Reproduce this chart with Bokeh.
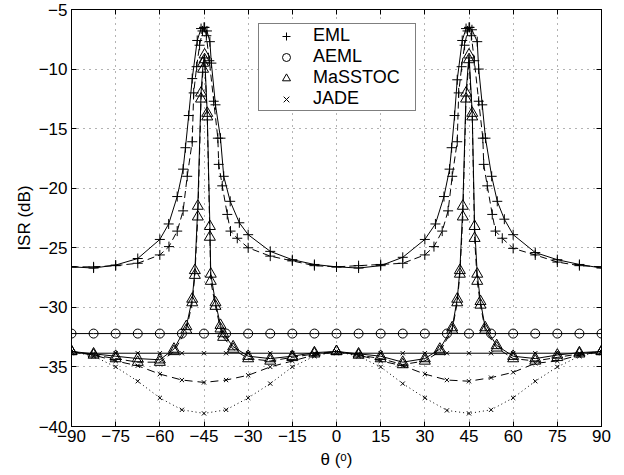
from bokeh.plotting import figure
from bokeh.models import Range1d, FixedTicker, LinearAxis, Legend, LegendItem
from bokeh.embed import file_html
from bokeh.resources import INLINE

# ---------------- data ----------------
x_ticks = [-90, -75, -60, -45, -30, -15, 0, 15, 30, 45, 60, 75, 90]
x_tick_labels = ["\u221290", "\u221275", "\u221260", "\u221245", "\u221230", "\u221215",
                 "0", "15", "30", "45", "60", "75", "90"]
y_ticks = [-40, -35, -30, -25, -20, -15, -10, -5]
y_tick_labels = ["\u221240", "\u221235", "\u221230", "\u221225", "\u221220", "\u221215",
                 "\u221210", "\u22125"]

theta_grid = [-90, -82.5, -75, -67.5, -60, -52.5, -45, -37.5, -30, -22.5, -15, -7.5, 0,
              7.5, 15, 22.5, 30, 37.5, 45, 52.5, 60, 67.5, 75, 82.5, 90]

aeml_isr = [-32.2, -32.2, -32.2, -32.2, -32.2, -32.2, -32.2, -32.2, -32.2, -32.2, -32.2, -32.2,
            -32.2, -32.2, -32.2, -32.2, -32.2, -32.2, -32.2, -32.2, -32.2, -32.2, -32.2, -32.2, -32.2]

jade_solid_isr = [-33.85, -33.85, -33.85, -33.85, -33.85, -33.85, -33.85, -33.85, -33.85, -33.85,
                  -33.85, -33.85, -33.85, -33.85, -33.85, -33.85, -33.85, -33.85, -33.85, -33.85,
                  -33.85, -33.85, -33.85, -33.85, -33.85]
jade_dashed_isr = [-33.7, -34.0, -34.5, -34.9, -35.6, -36.1, -36.3, -36.1, -35.7, -35.0, -34.5, -34.0,
                   -33.7, -34.0, -34.5, -34.9, -35.6, -36.1, -36.2, -35.9, -35.45, -34.7, -34.5, -34.0, -33.7]
jade_dotted_isr = [-33.7, -34.1, -35.0, -36.2, -37.6, -38.6, -38.9, -38.6, -37.6, -36.4, -35.0, -34.1,
                   -33.7, -34.1, -35.0, -36.4, -37.6, -38.65, -38.9, -38.6, -37.6, -36.2, -35.0, -34.1, -33.7]

masstoc_theta = [-90, -82.5, -75, -67.5, -60, -55.2, -51, -49, -48.1, -47.1, -46, -45.3, -44.8, -43.9,
                 -43, -42.7, -41.1, -39.4, -38.5, -35.1, -30, -22.5, -15, -7.5, 0, 7.5, 15, 22.5, 30,
                 35.1, 39.3, 41, 41.9, 42.9, 44, 45, 46.1, 46.9, 47.8, 48.9, 50.5, 54.4, 60, 67.5, 75,
                 82.5, 90]
masstoc_solid_isr = [-33.7, -33.9, -34.1, -34.3, -34.4, -33.5, -31.6, -29.3, -26.9, -21.5, -12.0, -9.5,
                     -8.8, -13.7, -23.2, -27.2, -29.6, -31.5, -32.2, -33.3, -34.1, -34.3, -34.1, -33.8,
                     -33.7, -33.9, -34.1, -34.6, -34.3, -33.5, -31.7, -29.3, -26.9, -21.5, -12.0, -8.8,
                     -13.7, -23.2, -27.2, -29.5, -31.7, -33.2, -34.1, -34.3, -34.0, -33.8, -33.7]
masstoc_dashed_isr = [-33.7, -34.0, -34.3, -34.6, -34.6, -33.7, -31.9, -29.6, -27.3, -22.4, -12.5, -10.0,
                      -9.2, -14.0, -24.1, -27.8, -29.9, -31.8, -32.5, -33.5, -34.3, -34.5, -34.2, -33.9,
                      -33.7, -34.0, -34.3, -34.8, -34.5, -33.7, -31.9, -29.6, -27.2, -22.4, -12.5, -9.2,
                      -14.0, -24.2, -27.8, -29.8, -31.9, -33.4, -34.3, -34.5, -34.2, -33.9, -33.7]

eml_solid_theta = [-90, -82.5, -75, -67.5, -60, -57, -54.1, -52.1, -51.3, -50.2, -49, -47.3, -46, -45,
                   -44, -43, -42.5, -41.1, -39.4, -38.3, -36.1, -33, -30, -22.5, -15, -7.5, 0,
                   7.5, 15, 22.5, 30, 33.6, 36.5, 38.4, 39.1, 40.1, 41, 42.7, 44, 45, 46, 47.8, 48.3,
                   49.5, 50.6, 52.7, 54.6, 57, 60, 67.5, 75, 82.5, 90]
eml_solid_isr = [-26.6, -26.7, -26.45, -25.9, -24.3, -23.0, -20.7, -18.4, -16.6, -13.9, -10.8, -7.6, -6.6,
                 -6.5, -6.8, -7.7, -9.5, -13.0, -15.8, -19.0, -21.1, -22.9, -23.9, -25.3, -26.0, -26.4,
                 -26.6, -26.7, -26.5, -25.8, -24.3, -23.0, -20.7, -18.4, -16.6, -13.9, -10.9, -7.6,
                 -6.6, -6.5, -6.7, -7.7, -10.0, -13.0, -15.8, -19.0, -21.1, -22.6, -23.9, -25.4,
                 -26.0, -26.4, -26.7]

eml_dashed_theta = [-90, -82.5, -75, -67.5, -60, -56.9, -54.1, -52.1, -50.7, -49.0, -48.5, -47.5, -46.5,
                    -45.5, -44.8, -44.2, -43.2, -41.7, -40.3, -40.0, -38.8, -37.1, -36.0, -33.7, -30,
                    -22.5, -15, -7.5, 0, 7.5, 15, 22.5, 30, 33.1, 35.9, 37.9, 39.3, 41.0, 41.5, 42.5,
                    43.5, 44.5, 45.2, 45.8, 46.8, 48.3, 49.7, 50.0, 51.2, 52.9, 54.0, 56.3, 60, 67.5,
                    75, 82.5, 90]
eml_dashed_isr = [-26.6, -26.6, -26.5, -26.3, -25.6, -24.9, -23.6, -21.9, -19.0, -16.1, -12.0, -9.8, -8.0,
                  -6.8, -6.5, -7.2, -9.3, -12.7, -15.8, -18.0, -19.8, -22.2, -23.6, -24.2, -25.0,
                  -25.7, -26.1, -26.5, -26.6, -26.5, -26.4, -26.3, -25.6, -24.9, -23.6, -21.9, -19.0,
                  -16.1, -12.0, -9.8, -8.0, -6.8, -6.5, -7.2, -9.3, -12.7, -15.8, -18.0, -19.8,
                  -22.2, -23.6, -24.2, -25.05, -25.6, -26.2, -26.5, -26.6]

legend_labels = ["EML", "AEML", "MaSSTOC", "JADE"]
x_label = "\u03b8 (\u1d52)"
y_label = "ISR (dB)"

# ---------------- figure ----------------
FONT = "Liberation Sans"
p = figure(width=614, height=474, output_backend="svg", toolbar_location=None,
           x_range=Range1d(-90, 90), y_range=Range1d(-40, -5),
           min_border_left=71, min_border_right=13, min_border_top=9, min_border_bottom=48)
p.background_fill_color = "white"
p.border_fill_color = "white"
p.outline_line_color = "black"
p.outline_line_width = 1

def style_axis(ax, labels=True):
    ax.axis_line_color = "black"
    ax.major_tick_line_color = "black"
    ax.major_tick_in = 5
    ax.major_tick_out = 0
    ax.minor_tick_in = 0
    ax.minor_tick_out = 0
    ax.minor_tick_line_color = None
    ax.major_label_text_font = FONT
    if labels:
        ax.major_label_text_font_size = "17px"
        ax.major_label_text_color = "black"
        ax.axis_label_text_font = FONT
        ax.axis_label_text_font_size = "17px"
        ax.axis_label_text_font_style = "normal"
        ax.axis_label_text_color = "black"
    else:
        ax.major_label_text_font_size = "1px"
        ax.major_label_text_color = None
        ax.major_label_standoff = 0

p.xaxis.ticker = FixedTicker(ticks=x_ticks)
p.xaxis.major_label_overrides = {t: s for t, s in zip(x_ticks, x_tick_labels)}
p.yaxis.ticker = FixedTicker(ticks=y_ticks)
p.yaxis.major_label_overrides = {t: s for t, s in zip(y_ticks, y_tick_labels)}
style_axis(p.xaxis[0])
style_axis(p.yaxis[0])
p.xaxis.major_label_standoff = 3
p.yaxis.major_label_standoff = 4
p.yaxis.axis_label = y_label
p.yaxis.axis_label_standoff = 2
p.xaxis.axis_label = x_label
p.xaxis.axis_label_standoff = 5

top_ax = LinearAxis(ticker=FixedTicker(ticks=x_ticks))
style_axis(top_ax, labels=False)
p.add_layout(top_ax, "above")
right_ax = LinearAxis(ticker=FixedTicker(ticks=y_ticks))
style_axis(right_ax, labels=False)
p.add_layout(right_ax, "right")

for g in (p.xgrid[0], p.ygrid[0]):
    g.grid_line_color = "black"
    g.grid_line_alpha = 0.6
    g.grid_line_dash = "1 5"
    g.grid_line_width = 1
p.xgrid.ticker = FixedTicker(ticks=x_ticks)
p.ygrid.ticker = FixedTicker(ticks=y_ticks)

LW = 1
# lines
p.line(eml_solid_theta, eml_solid_isr, line_color="black", line_width=LW)
p.line(eml_dashed_theta, eml_dashed_isr, line_color="black", line_width=LW, line_dash="7 4")
p.line(theta_grid, aeml_isr, line_color="black", line_width=LW)
p.line(masstoc_theta, masstoc_solid_isr, line_color="black", line_width=LW)
p.line(masstoc_theta, masstoc_dashed_isr, line_color="black", line_width=LW, line_dash="7 4")
p.line(theta_grid, jade_solid_isr, line_color="black", line_width=LW)
p.line(theta_grid, jade_dashed_isr, line_color="black", line_width=LW, line_dash="8 5")
p.line(theta_grid, jade_dotted_isr, line_color="black", line_width=LW, line_dash="1 3")

# markers
r_eml = p.scatter(eml_solid_theta, eml_solid_isr, marker="cross", size=10,
                  line_color="black", fill_color=None, line_width=1)
p.scatter(eml_dashed_theta, eml_dashed_isr, marker="cross", size=10,
          line_color="black", fill_color=None, line_width=1)
r_aeml = p.scatter(theta_grid, aeml_isr, marker="circle", size=9,
                   line_color="black", fill_color=None, line_width=1)
r_mas = p.scatter(masstoc_theta, masstoc_solid_isr, marker="triangle", size=11,
                  line_color="black", fill_color=None, line_width=1)
p.scatter(masstoc_theta, masstoc_dashed_isr, marker="triangle", size=11,
          line_color="black", fill_color=None, line_width=1)
r_jade = p.scatter(theta_grid, jade_solid_isr, marker="x", size=6,
                   line_color="black", fill_color=None, line_width=1)
p.scatter(theta_grid, jade_dashed_isr, marker="x", size=6,
          line_color="black", fill_color=None, line_width=1)
p.scatter(theta_grid, jade_dotted_isr, marker="x", size=6,
          line_color="black", fill_color=None, line_width=1)

legend = Legend(items=[LegendItem(label=legend_labels[0], renderers=[r_eml]),
                       LegendItem(label=legend_labels[1], renderers=[r_aeml]),
                       LegendItem(label=legend_labels[2], renderers=[r_mas]),
                       LegendItem(label=legend_labels[3], renderers=[r_jade])],
                location=(187, 315))
legend.border_line_color = "black"
legend.border_line_width = 1
legend.background_fill_color = "white"
legend.background_fill_alpha = 1
legend.padding = 1
legend.spacing = -2
legend.margin = 0
legend.glyph_width = 52
legend.glyph_height = 20
legend.label_height = 20
legend.label_width = 101
legend.label_standoff = 1
legend.label_text_font = FONT
legend.label_text_font_size = "18px"
legend.label_text_color = "black"
legend.label_text_baseline = "middle"
p.add_layout(legend)

open("out.html", "w").write(file_html(p, INLINE))
